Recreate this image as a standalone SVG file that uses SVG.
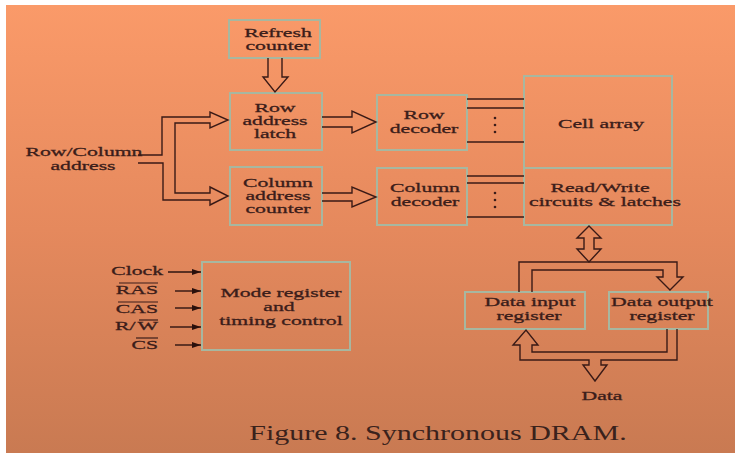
<svg xmlns="http://www.w3.org/2000/svg" width="735" height="453" viewBox="0 0 735 453">
  <style>
    .t, .te, .ts { font-family: "Liberation Serif", "Times New Roman", serif; font-size: 13px; fill: #3b1d1a; stroke: #3b1d1a; stroke-width: 0.3; }
    .t { text-anchor: middle; }
    .te { text-anchor: end; }
    .ts { text-anchor: start; }
    .cap { font-family: "Liberation Serif", "Times New Roman", serif; font-size: 20px; fill: #3a221c; text-anchor: middle; }
    .box { fill: none; stroke: #a7b7a0; stroke-width: 2; }
    .wire { fill: none; stroke: #3a1a16; stroke-width: 1.4; stroke-linejoin: miter; }
    .sig { fill: none; stroke: #2e1410; stroke-width: 1.4; }
    .ovl { stroke: #3b1d1a; stroke-width: 1.2; }
    .dot { fill: #3b1d1a; }
  </style>
  <defs>
    <linearGradient id="bg" x1="0" y1="0" x2="0" y2="1">
      <stop offset="0" stop-color="#FA9A69"/>
      <stop offset="0.5" stop-color="#E5895D"/>
      <stop offset="1" stop-color="#C97A52"/>
    </linearGradient>
    <marker id="ah" markerWidth="9" markerHeight="6" refX="9" refY="3" orient="auto" markerUnits="userSpaceOnUse">
      <path d="M0,0 L9,3 L0,6 Z" fill="#2a100c"/>
    </marker>
  </defs>

  <rect x="0" y="0" width="735" height="453" fill="#ffffff"/>
  <rect x="6" y="5" width="729" height="448" fill="url(#bg)"/>

  <g id="refresh-counter">
    <rect class="box" x="229" y="20" width="91" height="38"/>
    <text class="t" transform="translate(278,37) scale(1.67,1)">Refresh</text>
    <text class="t" transform="translate(278,50) scale(1.67,1)">counter</text>
  </g>

  <g id="row-address-latch">
    <rect class="box" x="230" y="93" width="92" height="57"/>
    <text class="t" transform="translate(275,112) scale(1.67,1)">Row</text>
    <text class="t" transform="translate(275,125) scale(1.67,1)">address</text>
    <text class="t" transform="translate(275,138) scale(1.67,1)">latch</text>
  </g>

  <g id="column-address-counter">
    <rect class="box" x="230" y="167" width="92" height="58"/>
    <text class="t" transform="translate(278,187) scale(1.67,1)">Column</text>
    <text class="t" transform="translate(278,200) scale(1.67,1)">address</text>
    <text class="t" transform="translate(278,213) scale(1.67,1)">counter</text>
  </g>

  <g id="row-decoder">
    <rect class="box" x="377" y="95" width="90" height="55"/>
    <text class="t" transform="translate(424,119) scale(1.67,1)">Row</text>
    <text class="t" transform="translate(424,133) scale(1.67,1)">decoder</text>
  </g>

  <g id="column-decoder">
    <rect class="box" x="377" y="168" width="90" height="57"/>
    <text class="t" transform="translate(425,192) scale(1.67,1)">Column</text>
    <text class="t" transform="translate(425,206) scale(1.67,1)">decoder</text>
  </g>

  <g id="cell-array">
    <rect class="box" x="524" y="76" width="148" height="92"/>
    <text class="t" transform="translate(601,128) scale(1.67,1)">Cell array</text>
  </g>

  <g id="read-write">
    <rect class="box" x="524" y="168" width="148" height="57"/>
    <text class="t" transform="translate(600,192) scale(1.67,1)">Read/Write</text>
    <text class="t" transform="translate(605,206) scale(1.67,1)">circuits &amp; latches</text>
  </g>

  <g id="mode-register">
    <rect class="box" x="202" y="262" width="148" height="88"/>
    <text class="t" transform="translate(281,297) scale(1.67,1)">Mode register</text>
    <text class="t" transform="translate(279,311) scale(1.67,1)">and</text>
    <text class="t" transform="translate(281,325) scale(1.67,1)">timing control</text>
  </g>

  <g id="data-input-register">
    <rect class="box" x="465" y="292" width="120" height="37"/>
    <text class="t" transform="translate(530,306) scale(1.67,1)">Data input</text>
    <text class="t" transform="translate(529,320) scale(1.67,1)">register</text>
  </g>

  <g id="data-output-register">
    <rect class="box" x="609" y="292" width="99" height="37"/>
    <text class="t" transform="translate(662,306) scale(1.67,1)">Data output</text>
    <text class="t" transform="translate(662,320) scale(1.67,1)">register</text>
  </g>

  <g id="labels">
    <text class="t" transform="translate(84,156) scale(1.67,1)">Row/Column</text>
    <text class="t" transform="translate(83,170) scale(1.67,1)">address</text>
    <text class="te" transform="translate(163,275) scale(1.67,1)">Clock</text>
    <text class="te" transform="translate(158,294) scale(1.67,1)">RAS</text>
    <line class="ovl" x1="119" y1="283" x2="158" y2="283"/>
    <text class="te" transform="translate(158,313) scale(1.67,1)">CAS</text>
    <line class="ovl" x1="118" y1="302" x2="158" y2="302"/>
    <text class="ts" transform="translate(115,330) scale(1.67,1)">R/</text>
    <text class="te" transform="translate(158,330) scale(1.67,1)">W</text>
    <line class="ovl" x1="139" y1="320" x2="158" y2="320"/>
    <text class="te" transform="translate(158,349) scale(1.67,1)">CS</text>
    <line class="ovl" x1="136" y1="338" x2="158" y2="338"/>
    <text class="t" transform="translate(602,400) scale(1.67,1)">Data</text>
  </g>

  <g id="connectors">
    <polyline class="wire" points="268,58 268,77 263,77 275,92 288,77 282,77 282,58"/>
    <polyline class="wire" points="138,155 162,155 162,117 210,117 210,112 228,120 210,128 210,123 175,123 175,193 210,193 210,187 228,196 210,205 210,200 163,200 163,163 138,163"/>
    <polyline class="wire" points="322,117 352,117 352,111 376,122 352,133 352,127 322,127"/>
    <polyline class="wire" points="322,193 352,193 352,187 376,197 352,207 352,201 322,201"/>
    <line class="wire" x1="467" y1="99" x2="524" y2="99"/>
    <line class="wire" x1="467" y1="108" x2="524" y2="108"/>
    <line class="wire" x1="467" y1="142" x2="524" y2="142"/>
    <circle class="dot" cx="495" cy="118" r="1.3"/>
    <circle class="dot" cx="495" cy="125" r="1.3"/>
    <circle class="dot" cx="495" cy="132" r="1.3"/>
    <line class="wire" x1="467" y1="176" x2="524" y2="176"/>
    <line class="wire" x1="467" y1="183" x2="524" y2="183"/>
    <line class="wire" x1="467" y1="217" x2="524" y2="217"/>
    <circle class="dot" cx="495" cy="193" r="1.3"/>
    <circle class="dot" cx="495" cy="200" r="1.3"/>
    <circle class="dot" cx="495" cy="207" r="1.3"/>
    <polygon class="wire" points="589,226 601,238 594,238 594,249 601,249 589,262 577,249 584,249 584,238 577,238"/>
    <polyline class="wire" points="519,292 519,262 677,262 677,277 683,277 670,290 657,277 663,277 663,270 532,270 532,292"/>
    <polyline class="wire" points="667,329 667,352 532,352 532,345 538,345 526,330 513,345 520,345 520,360 589,360 589,365 583,365 595,381 607,365 601,365 601,360 677,360 677,329"/>
    <line class="sig" x1="168" y1="272" x2="201" y2="272" marker-end="url(#ah)"/>
    <line class="sig" x1="175" y1="291" x2="201" y2="291" marker-end="url(#ah)"/>
    <line class="sig" x1="175" y1="308" x2="201" y2="308" marker-end="url(#ah)"/>
    <line class="sig" x1="170" y1="327" x2="201" y2="327" marker-end="url(#ah)"/>
    <line class="sig" x1="175" y1="345" x2="201" y2="345" marker-end="url(#ah)"/>
  </g>

  <text class="cap" transform="translate(438,440) scale(1.5,1)">Figure 8. Synchronous DRAM.</text>
</svg>
